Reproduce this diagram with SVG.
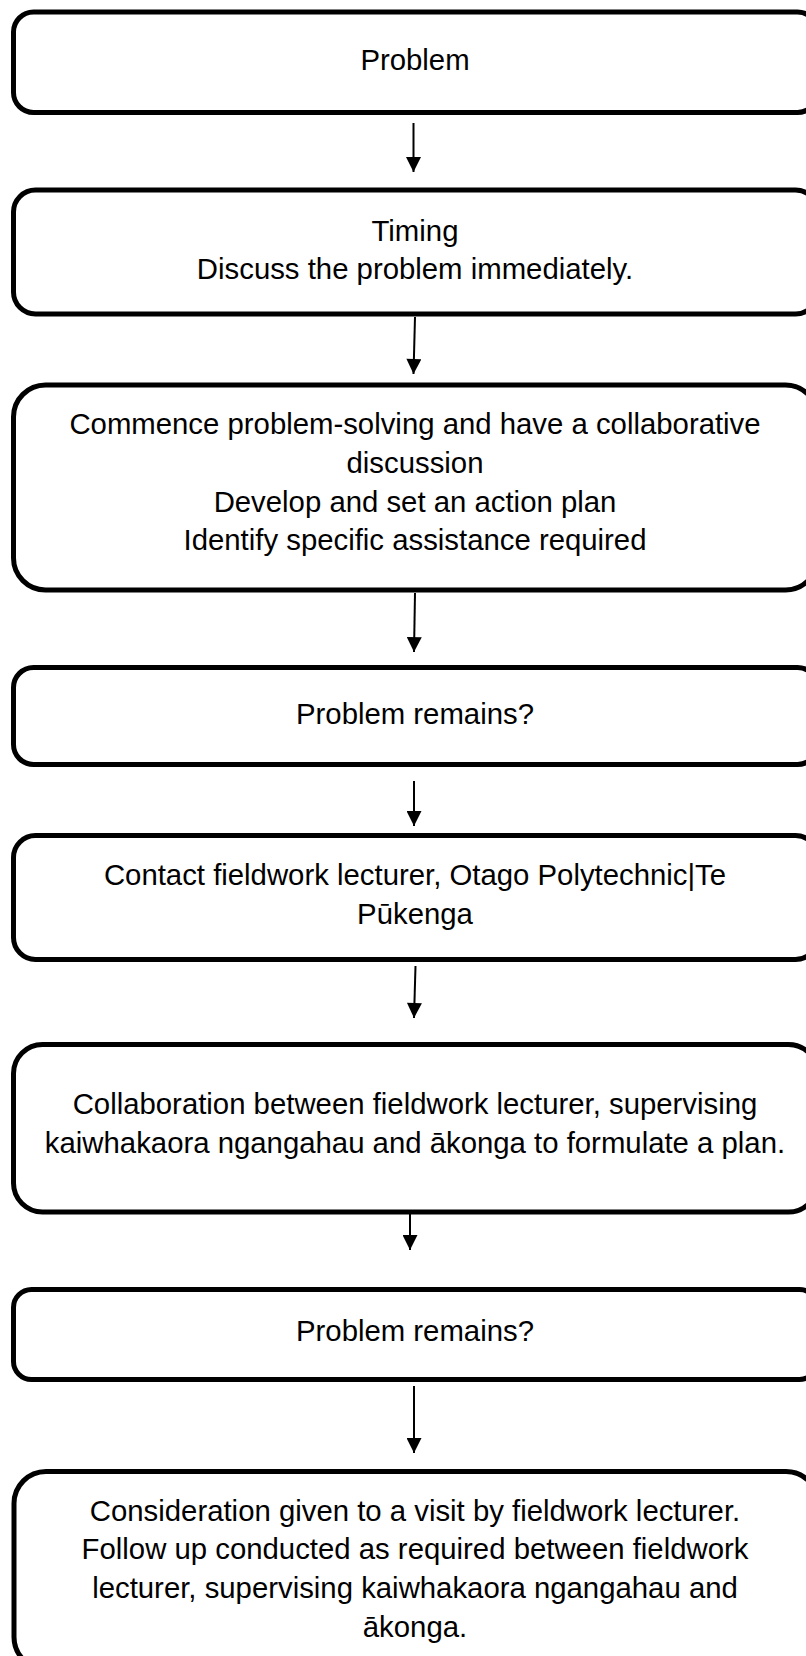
<svg xmlns="http://www.w3.org/2000/svg" width="806" height="1656" viewBox="0 0 806 1656">
<defs>
<style>
.box{fill:#fff;stroke:#000;stroke-width:5}
.t{font-family:"Liberation Sans",Arial,sans-serif;font-size:29.33px;fill:#000;text-anchor:middle}
.c{stroke:#000;stroke-width:2;fill:none;marker-end:url(#ah)}
</style>
<marker id="ah" viewBox="0 0 16 16" refX="16" refY="8" markerWidth="16" markerHeight="15" orient="auto" markerUnits="userSpaceOnUse">
<path d="M0,0 L16,8 L0,16 z" fill="#000"/>
</marker>
</defs>
<rect width="806" height="1656" fill="#fff"/>
<g id="connectors">
<line class="c" x1="413.5" y1="123" x2="413.5" y2="172"/>
<line class="c" x1="415" y1="317" x2="413.5" y2="374"/>
<line class="c" x1="415" y1="593" x2="414" y2="652"/>
<line class="c" x1="414" y1="781" x2="414" y2="826"/>
<line class="c" x1="415.5" y1="966" x2="414" y2="1018"/>
<line class="c" x1="410" y1="1198" x2="410" y2="1250"/>
<line class="c" x1="414" y1="1386" x2="414" y2="1453"/>
</g>
<g id="n1">
<rect class="box" x="13.5" y="12" width="804" height="100.5" rx="20"/>
<text class="t" x="415" y="70">Problem</text>
</g>
<g id="n2">
<rect class="box" x="13.5" y="190" width="804" height="124" rx="22"/>
<text class="t" x="415" y="240.5">Timing</text>
<text class="t" x="415" y="278.5">Discuss the problem immediately.</text>
</g>
<g id="n3">
<rect class="box" x="13.5" y="385" width="804" height="205" rx="32"/>
<text class="t" x="415" y="434">Commence problem-solving and have a collaborative</text>
<text class="t" x="415" y="473">discussion</text>
<text class="t" x="415" y="512">Develop and set an action plan</text>
<text class="t" x="415" y="550">Identify specific assistance required</text>
</g>
<g id="n4">
<rect class="box" x="13.5" y="667.5" width="804" height="97" rx="20"/>
<text class="t" x="415" y="724">Problem remains?</text>
</g>
<g id="n5">
<rect class="box" x="13.5" y="835.5" width="804" height="124" rx="22"/>
<text class="t" x="415" y="885">Contact fieldwork lecturer, Otago Polytechnic|Te</text>
<text class="t" x="415" y="924">Pūkenga</text>
</g>
<g id="n6">
<rect class="box" x="13.5" y="1044.5" width="804" height="167.5" rx="29"/>
<text class="t" x="415" y="1114">Collaboration between fieldwork lecturer, supervising</text>
<text class="t" x="415" y="1153">kaiwhakaora ngangahau and ākonga to formulate a plan.</text>
</g>
<g id="n7">
<rect class="box" x="13.5" y="1289.5" width="804" height="90" rx="18"/>
<text class="t" x="415" y="1341">Problem remains?</text>
</g>
<g id="n8">
<rect class="box" x="14" y="1471.5" width="804" height="197.5" rx="32"/>
<text class="t" x="415" y="1521">Consideration given to a visit by fieldwork lecturer.</text>
<text class="t" x="415" y="1559">Follow up conducted as required between fieldwork</text>
<text class="t" x="415" y="1598">lecturer, supervising kaiwhakaora ngangahau and</text>
<text class="t" x="415" y="1637">ākonga.</text>
</g>
</svg>
